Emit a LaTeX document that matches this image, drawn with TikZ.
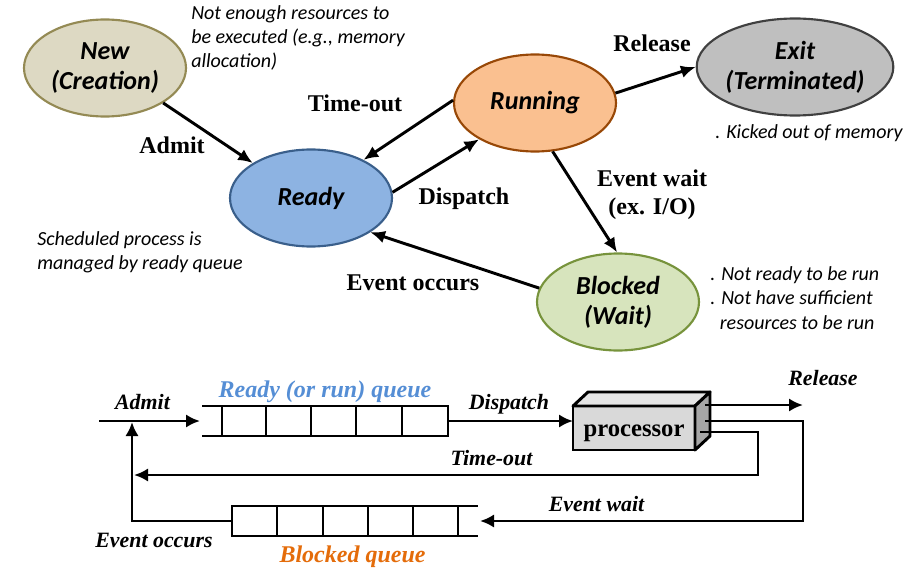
\documentclass[tikz,border=0pt]{standalone}
\usepackage{fontspec}
\setmainfont{Liberation Serif}
\newfontfamily\calib{Carlito}
\usetikzlibrary{shapes.geometric,arrows.meta,calc}
\definecolor{newfill}{HTML}{DDD9C3}\definecolor{newdraw}{HTML}{948A54}
\definecolor{readyfill}{HTML}{8DB3E2}\definecolor{readydraw}{HTML}{3A5F8B}
\definecolor{runfill}{HTML}{FAC090}\definecolor{rundraw}{HTML}{984807}
\definecolor{exitfill}{HTML}{BFBFBF}\definecolor{exitdraw}{HTML}{404040}
\definecolor{blkfill}{HTML}{D7E4BD}\definecolor{blkdraw}{HTML}{77933C}
\definecolor{qblue}{HTML}{558ED5}\definecolor{qorange}{HTML}{E46C0A}
\begin{document}
\begin{tikzpicture}[x=0.75pt,y=-0.75pt,
  state/.style={ellipse, draw, line width=1.6pt, minimum width=121.5pt, minimum height=72.75pt,
    inner sep=0pt, align=center, font=\calib\bfseries\itshape\fontsize{19.5}{22.5}\selectfont},
  note/.style={font=\calib\itshape\fontsize{15}{18.3}\selectfont, align=left, inner sep=0pt},
  elab/.style={font=\bfseries\fontsize{18}{21}\selectfont, inner sep=0pt, align=center},
  qlab/.style={font=\bfseries\itshape\fontsize{16.4}{19}\selectfont, inner sep=0pt},
  qname/.style={font=\bfseries\itshape\fontsize{18}{21}\selectfont, inner sep=0pt},
  arr/.style={-{Latex[length=11pt,width=9.5pt]}, line width=2.2pt},
  barr/.style={-{Latex[length=10.5pt,width=10pt]}, line width=2.2pt},
  qline/.style={line width=2.2pt},
  qbox/.style={rectangle, draw, line width=2.2pt, minimum width=169.5pt, minimum height=22.5pt, inner sep=0pt, outer sep=0pt},
  procbox/.style={rectangle, draw, line width=2.2pt, minimum width=91.5pt, minimum height=33pt, inner sep=0pt, outer sep=0pt}
]
\useasboundingbox (0,0) rectangle (916,581);

% ---- state diagram ----
\node[state, fill=newfill, draw=newdraw] (new) at (105,68) {New\\(Creation)};
\node[state, fill=readyfill, draw=readydraw] (ready) at (311,198) {Ready};
\node[state, fill=runfill, draw=rundraw] (run) at (535,103) {Running};
\node[state, fill=exitfill, draw=exitdraw] (exit) at (795,67) {Exit\\(Terminated)};
\node[state, fill=blkfill, draw=blkdraw] (blk) at (618,302) {Blocked\\(Wait)};

\draw[arr] (new.-31) -- (ready.149);
\draw[arr] (run.178) -- (ready.36);
\draw[arr] (ready.4) -- (run.-147);
\draw[arr] (run.7) -- (exit.180);
\draw[arr] (run.-70) -- (blk.91);
\draw[arr] (blk.170) -- (ready.-30);

\node[elab, anchor=base] (l1) at (172,153) {Admit};
\node[elab, anchor=base] (l2) at (355,112) {Time-out};
\node[elab, anchor=base] (l3) at (464,204) {Dispatch};
\node[elab, anchor=base] (l4) at (652,52) {Release};
\node[elab] (l5) at (652,195) {Event wait\\(ex. I/O)};
\node[elab, anchor=base] (l6) at (413,290) {Event occurs};

\node[note, anchor=west] (n1) at (191,38) {Not enough resources to\\be executed (e.g., memory\\allocation)};
\node[note, anchor=west] (n2) at (37,252) {Scheduled process is\\managed by ready queue};
\node[note, anchor=west] (n3) at (715,133) {. Kicked out of memory};
\node[note, anchor=west] (n4) at (710,298) {. Not ready to be run\\. Not have sufficient\\\phantom{.}\ resources to be run};

% ---- queue diagram ----
\node[qbox] (rq) at (335,421) {};
\draw[qline] (222,406) -- (202,406) (222,436) -- (202,436);
\foreach \x in {266,311,356,402} \draw[qline] (\x,406) -- (\x,436);
\node[qbox] (bq) at (345,521) {};
\draw[qline] (458,506) -- (478,506) (458,536) -- (478,536);
\foreach \x in {277,323,368,413} \draw[qline] (\x,506) -- (\x,536);

\node[procbox, fill=gray!30] (proc) at (634,428) {};
\fill[gray!20, draw=black, line width=2.2pt, line join=round] (proc.north west) -- ++(15,-14) -- ($(proc.north east)+(15,-14)$) -- (proc.north east) -- cycle;
\fill[gray!70, draw=black, line width=2.2pt, line join=round] (proc.north east) -- ++(15,-14) -- ($(proc.south east)+(15,-14)$) -- (proc.south east) -- cycle;
\node[font=\bfseries\fontsize{18.5}{21}\selectfont, anchor=base, inner sep=0pt] (ptext) at (634,436) {processor};

\coordinate (admS) at (99,421);
\coordinate (rqin) at (200,421);
\coordinate (evup) at (132,422);
\coordinate (relS) at (705,405);
\coordinate (relE) at (803,405);
\coordinate (ewS) at (705,421);
\coordinate (bqin) at (480,521);
\coordinate (toS) at (700,432);
\coordinate (toE) at (134,475);

\draw[barr] (admS) -- (rqin);
\draw[barr] (rq.east) -- (rq.east -| proc.west);
\draw[barr] (relS) -- (relE);
\draw[barr] (ewS) -- (803,421) -- (803,521) -- (bqin);
\draw[barr] (toS) -- (758,432) -- (758,475) -- (toE);
\draw[barr] (bq.west) -- (132,521) -- (evup);

\node[qlab, anchor=base] (b1) at (142.5,409) {Admit};
\node[qlab, anchor=base] (b2) at (509,409) {Dispatch};
\node[qlab, anchor=base] (b3) at (823,385) {Release};
\node[qlab, anchor=base] (b4) at (491.5,465) {Time-out};
\node[qlab, anchor=base] (b5) at (596.5,511) {Event wait};
\node[qlab, anchor=base] (b6) at (154,547) {Event occurs};
\node[qname, anchor=base, text=qblue] (b7) at (325,397) {Ready (or run) queue};
\node[qname, anchor=base, text=qorange] (b8) at (352.5,562) {Blocked queue};
\end{tikzpicture}
\end{document}
